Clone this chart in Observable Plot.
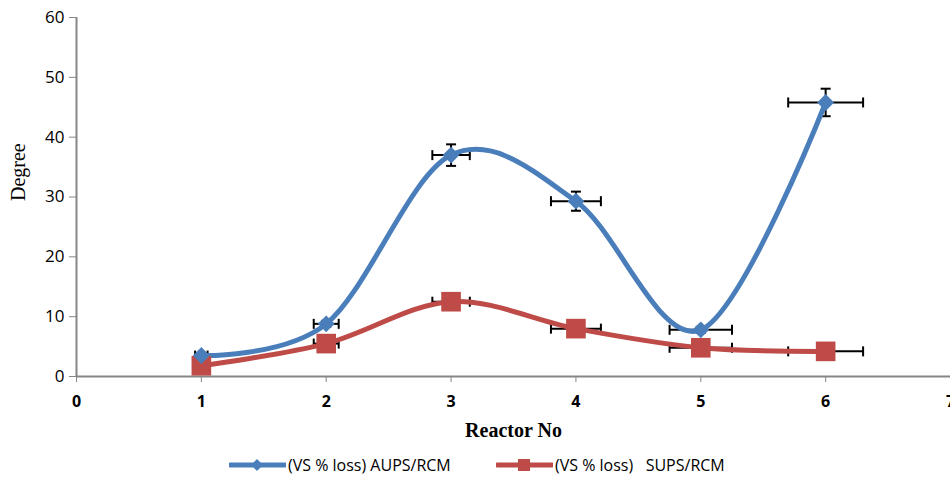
<!DOCTYPE html>
<html>
<head>
<meta charset="utf-8">
<script src="https://cdn.jsdelivr.net/npm/d3@7"></script>
<script src="https://cdn.jsdelivr.net/npm/@observablehq/plot@0.6"></script>
<style>
  body { margin: 0; background: #fff; }
  #wrap { position: relative; width: 950px; height: 477px; }
  #legend { position: absolute; left: 0; top: 452px; width: 950px; height: 25px;
    font-family: "Open Sans", sans-serif; font-size: 16px; color: #000; }
  .item { position: absolute; top: 0; display: flex; align-items: center; height: 25px; white-space: pre; }
</style>
</head>
<body>
<div id="wrap">
  <div id="chart"></div>
  <div id="legend"></div>
</div>
<script>
const reactors = [1, 2, 3, 4, 5, 6];
const aupsLoss = [3.5, 8.8, 37.0, 29.3, 7.8, 45.8];
const supsLoss = [1.8, 5.5, 12.5, 8.0, 4.8, 4.2];
const xErr = [0.05, 0.1, 0.15, 0.2, 0.25, 0.3];
const aupsErr = [0.4, 0.5, 1.8, 1.6, 0.5, 2.3];
const supsErr = [0.3, 0.4, 0.6, 0.5, 0.3, 0.3];
const xTicks = [0, 1, 2, 3, 4, 5, 6, 7];
const yTicks = [0, 10, 20, 30, 40, 50, 60];
const seriesNames = ["(VS % loss) AUPS/RCM", "(VS % loss)   SUPS/RCM"];
const seriesColors = ["#4A7EBB", "#BE4B48"];

const aups = reactors.map((r, i) => ({x: r, y: aupsLoss[i], ex: xErr[i], ey: aupsErr[i]}));
const sups = reactors.map((r, i) => ({x: r, y: supsLoss[i], ex: xErr[i], ey: supsErr[i]}));

const vCap = {draw(ctx, size) { const r = Math.sqrt(size / Math.PI); ctx.moveTo(0, -r); ctx.lineTo(0, r); }};
const hCap = {draw(ctx, size) { const r = Math.sqrt(size / Math.PI); ctx.moveTo(-r, 0); ctx.lineTo(r, 0); }};

function errMarks(data) {
  return [
    Plot.link(data, {x1: d => d.x - d.ex, x2: d => d.x + d.ex, y1: "y", y2: "y", stroke: "#000", strokeWidth: 2}),
    Plot.dot(data, {x: d => d.x - d.ex, y: "y", symbol: vCap, r: 5, stroke: "#000", strokeWidth: 2}),
    Plot.dot(data, {x: d => d.x + d.ex, y: "y", symbol: vCap, r: 5, stroke: "#000", strokeWidth: 2}),
    Plot.link(data, {x1: "x", x2: "x", y1: d => d.y - d.ey, y2: d => d.y + d.ey, stroke: "#000", strokeWidth: 2}),
    Plot.dot(data, {x: "x", y: d => d.y - d.ey, symbol: hCap, r: 5, stroke: "#000", strokeWidth: 2}),
    Plot.dot(data, {x: "x", y: d => d.y + d.ey, symbol: hCap, r: 5, stroke: "#000", strokeWidth: 2})
  ];
}

const chart = Plot.plot({
  width: 950,
  height: 445,
  marginLeft: 76,
  marginRight: 0,
  marginTop: 17,
  marginBottom: 69,
  style: {fontFamily: "'Open Sans', sans-serif", background: "#fff"},
  x: {domain: [0, 7]},
  y: {domain: [0, 60]},
  marks: [
    Plot.axisY({ticks: yTicks, tickSize: 7, tickPadding: 5, stroke: "#868686", fill: "#000", fontSize: 17, label: null}),
    Plot.axisX({ticks: xTicks, tickFormat: d3.format("d"), tickSize: 6, tickPadding: 13, stroke: "#868686", fill: "#000", fontSize: 16, fontWeight: "bold", label: null}),
    Plot.ruleX([0], {stroke: "#868686", strokeWidth: 2}),
    Plot.ruleY([0], {stroke: "#868686", strokeWidth: 2}),
    ...errMarks(sups),
    ...errMarks(aups),
    Plot.line(sups, {x: "x", y: "y", curve: "cardinal", stroke: seriesColors[1], strokeWidth: 5}),
    Plot.line(aups, {x: "x", y: "y", curve: "cardinal", stroke: seriesColors[0], strokeWidth: 5}),
    Plot.dot(sups, {x: "x", y: "y", symbol: "square2", r: 12.5, fill: seriesColors[1]}),
    Plot.dot(aups, {x: "x", y: "y", symbol: "diamond2", r: 7.6, fill: seriesColors[0]}),
    Plot.text(["Degree"], {frameAnchor: "left", dx: -58, dy: 4, rotate: -90, fontFamily: "'Liberation Serif', serif", fontSize: 20, fill: "#000"}),
    Plot.text(["Reactor No"], {frameAnchor: "bottom", dy: 60, fontFamily: "'Liberation Serif', serif", fontSize: 20, fontWeight: "bold", fill: "#000"})
  ]
});
document.getElementById("chart").appendChild(chart);

const legend = document.getElementById("legend");
const lefts = [229, 496];
seriesNames.forEach((name, i) => {
  const item = document.createElement("div");
  item.className = "item";
  item.style.left = lefts[i] + "px";
  const marker = i === 0
    ? `<path d="M28,7 L34,13 L28,19 L22,13 Z" fill="${seriesColors[i]}"/>`
    : `<rect x="22" y="7" width="12" height="12" fill="${seriesColors[i]}"/>`;
  item.innerHTML = `<svg width="57" height="25"><line x1="1" x2="56" y1="13" y2="13" stroke="${seriesColors[i]}" stroke-width="5" stroke-linecap="round"/>${marker}</svg><span style="margin-left:2px">${name}</span>`;
  legend.appendChild(item);
});
</script>
</body>
</html>
